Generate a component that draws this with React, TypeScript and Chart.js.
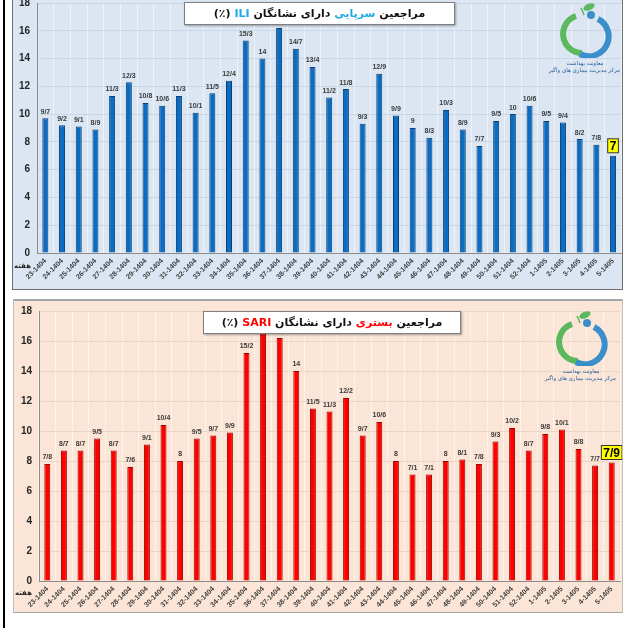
import React, { useEffect, useRef } from "react";
import { Chart, registerables } from "chart.js";

Chart.register(...registerables);

// week labels (week-year, Persian calendar)
const weeks = [
  "23-1404", "24-1404", "25-1404", "26-1404", "27-1404", "28-1404", "29-1404",
  "30-1404", "31-1404", "32-1404", "33-1404", "34-1404", "35-1404", "36-1404",
  "37-1404", "38-1404", "39-1404", "40-1404", "41-1404", "42-1404", "43-1404",
  "44-1404", "45-1404", "46-1404", "47-1404", "48-1404", "49-1404", "50-1404",
  "51-1404", "52-1404", "1-1405", "2-1405", "3-1405", "4-1405", "5-1405",
];

// outpatients with ILI (%)
const iliValues = [
  9.7, 9.2, 9.1, 8.9, 11.3, 12.3, 10.8, 10.6, 11.3, 10.1, 11.5, 12.4, 15.3, 14,
  16.2, 14.7, 13.4, 11.2, 11.8, 9.3, 12.9, 9.9, 9, 8.3, 10.3, 8.9, 7.7, 9.5,
  10, 10.6, 9.5, 9.4, 8.2, 7.8, 7,
];

// hospitalised with SARI (%)
const sariValues = [
  7.8, 8.7, 8.7, 9.5, 8.7, 7.6, 9.1, 10.4, 8, 9.5, 9.7, 9.9, 15.2, 16.5,
  16.2, 14, 11.5, 11.3, 12.2, 9.7, 10.6, 8, 7.1, 7.1, 8, 8.1, 7.8, 9.3,
  10.2, 8.7, 9.8, 10.1, 8.8, 7.7, 7.9,
];

const yMin = 0;
const yMax = 18;
const yStep = 2;

const tickFont = '"Liberation Sans", Arial, sans-serif';
const faFont = '"DejaVu Sans", sans-serif';

// numbers are written with "/" as the decimal mark
const fmt = (v: number) => String(v).replace(".", "/");

const valueLabels = {
  id: "valueLabels",
  afterDatasetsDraw(chart: any) {
    const { ctx } = chart;
    const meta = chart.getDatasetMeta(0);
    const data = chart.data.datasets[0].data as number[];
    ctx.save();
    meta.data.forEach((bar: any, i: number) => {
      const text = fmt(data[i]);
      if (i === data.length - 1) {
        ctx.font = `bold 12px ${tickFont}`;
        const w = ctx.measureText(text).width + 4;
        const h = 14;
        const bottom = bar.y - 3;
        ctx.fillStyle = "#FFFF00";
        ctx.fillRect(bar.x - w / 2, bottom - h, w, h);
        ctx.strokeStyle = "#333";
        ctx.lineWidth = 1;
        ctx.strokeRect(bar.x - w / 2, bottom - h, w, h);
        ctx.fillStyle = "#000";
        ctx.textAlign = "center";
        ctx.textBaseline = "middle";
        ctx.fillText(text, bar.x, bottom - h / 2 + 1);
      } else {
        ctx.font = `bold 7px ${tickFont}`;
        ctx.fillStyle = "#3A3A3A";
        ctx.textAlign = "center";
        ctx.textBaseline = "bottom";
        ctx.fillText(text, bar.x, bar.y - 3);
      }
    });
    ctx.restore();
  },
};

type PanelProps = {
  values: number[];
  barColor: string;
  barBorder: string;
  hGrid: string;
  vGrid: string;
  left: number;
  top: number;
  width: number;
  height: number;
  padTop: number;
  padRight: number;
  yWidth: number;
  xHeight: number;
};

const BarPanel: React.FC<PanelProps> = (p) => {
  const chartRef = useRef<HTMLCanvasElement | null>(null);

  useEffect(() => {
    const canvas = chartRef.current;
    if (!canvas) return;

    const chart = new Chart(canvas, {
      type: "bar",
      data: {
        labels: weeks,
        datasets: [
          {
            data: p.values,
            backgroundColor: p.barColor,
            borderColor: p.barBorder,
            borderWidth: 1,
            barPercentage: 0.36,
            categoryPercentage: 1,
          },
        ],
      },
      options: {
        animation: false,
        responsive: true,
        maintainAspectRatio: false,
        layout: { padding: { top: p.padTop, right: p.padRight, left: 0, bottom: 0 } },
        plugins: {
          legend: { display: false },
          tooltip: { enabled: false },
        },
        scales: {
          x: {
            grid: { color: p.vGrid, offset: true, drawTicks: false },
            border: { color: "#8C8C8C" },
            ticks: {
              autoSkip: false,
              maxRotation: 45,
              minRotation: 45,
              padding: 4,
              color: "#404040",
              font: { family: tickFont, size: 7, weight: "bold" },
            },
            afterFit: (s: any) => {
              s.height = p.xHeight;
            },
          },
          y: {
            min: yMin,
            max: yMax,
            ticks: {
              stepSize: yStep,
              padding: 7,
              color: "#262626",
              font: { family: tickFont, size: 10, weight: "bold" },
            },
            grid: { color: p.hGrid, drawTicks: false },
            border: { color: "#8C8C8C" },
            afterFit: (s: any) => {
              s.width = p.yWidth;
            },
          },
        },
      },
      plugins: [valueLabels],
    });

    return () => {
      chart.destroy();
    };
  }, [p]);

  return (
    <div
      style={{
        position: "absolute",
        left: p.left,
        top: p.top,
        width: p.width,
        height: p.height,
      }}
    >
      <canvas ref={chartRef} />
    </div>
  );
};

const Logo: React.FC<{ left: number; top: number }> = ({ left, top }) => (
  <div style={{ position: "absolute", left, top, width: 70 }}>
    <svg width="70" height="56" viewBox="0 0 70 56" style={{ display: "block" }}>
      <path d="M26 14 A19 19 0 0 0 32 51" fill="none" stroke="#5CB85C" strokeWidth="6" />
      <path d="M48 17 A19 19 0 0 1 30 52" fill="none" stroke="#3A8FCB" strokeWidth="6" />
      <circle cx="41" cy="13" r="4" fill="#3A8FCB" />
      <ellipse cx="39" cy="5" rx="6" ry="3.2" fill="#5CB85C" transform="rotate(-25 39 5)" />
      <path d="M31 6 Q33 10 34 13" fill="none" stroke="#5CB85C" strokeWidth="1.5" />
    </svg>
    <div
      style={{
        direction: "rtl",
        textAlign: "center",
        fontFamily: faFont,
        fontSize: 5.5,
        lineHeight: "7px",
        color: "#1F5C99",
        marginTop: 2,
        whiteSpace: "nowrap",
      }}
    >
      <div>معاونت بهداشت</div>
      <div>مرکز مدیریت بیماری های واگیر</div>
    </div>
  </div>
);

const TitleBox: React.FC<{
  left: number;
  top: number;
  width: number;
  height: number;
  word: string;
  code: string;
  color: string;
}> = ({ left, top, width, height, word, code, color }) => (
  <div
    style={{
      position: "absolute",
      left,
      top,
      width,
      height,
      boxSizing: "border-box",
      background: "#fff",
      border: "1px solid #7F7F7F",
      boxShadow: "1px 1px 2px rgba(0,0,0,0.35)",
      direction: "rtl",
      textAlign: "center",
      fontFamily: faFont,
      fontWeight: "bold",
      fontSize: 11,
      lineHeight: `${height - 2}px`,
      color: "#111",
      whiteSpace: "nowrap",
    }}
  >
    مراجعین <span style={{ color }}>{word}</span> دارای نشانگان{" "}
    <span style={{ color }}>{code}</span> (٪)
  </div>
);

const weekWord = (left: number, top: number) => (
  <div
    style={{
      position: "absolute",
      left,
      top,
      fontFamily: faFont,
      fontWeight: "bold",
      fontSize: 7,
      color: "#262626",
    }}
  >
    هفته
  </div>
);

const topPanel = {
  values: iliValues,
  barColor: "#0A6CC2",
  barBorder: "#0B3F73",
  hGrid: "#C9D6E6",
  vGrid: "#EEF3F9",
  left: 12,
  top: -10,
  width: 611,
  height: 300,
  padTop: 8,
  padRight: 1,
  yWidth: 25,
  xHeight: 37,
};

const bottomPanel = {
  values: sariValues,
  barColor: "#FF0000",
  barBorder: "#9C0000",
  hGrid: "#EBD5C7",
  vGrid: "#FFF4EC",
  left: 13,
  top: 298,
  width: 609,
  height: 315,
  padTop: 10,
  padRight: 2,
  yWidth: 26,
  xHeight: 32,
};

export default function App() {
  return (
    <div
      style={{
        position: "absolute",
        left: 0,
        top: 0,
        width: 636,
        height: 628,
        overflow: "hidden",
        background: "#fff",
      }}
    >
      <div style={{ position: "absolute", left: 3, top: 0, width: 2, height: 628, background: "#000" }} />
      <div
        style={{
          position: "absolute",
          left: 12,
          top: -3,
          width: 611,
          height: 293,
          boxSizing: "border-box",
          background: "#DCE6F2",
          border: "1px solid #6E6E6E",
        }}
      />
      <div
        style={{
          position: "absolute",
          left: 13,
          top: 299,
          width: 610,
          height: 314,
          boxSizing: "border-box",
          background: "#FBE5D6",
          borderTop: "2px solid #A6A6A6",
          borderLeft: "1px solid #BFBFBF",
          borderRight: "1px solid #BFBFBF",
          borderBottom: "1px solid #A6A6A6",
        }}
      />
      <BarPanel {...topPanel} />
      <BarPanel {...bottomPanel} />
      <TitleBox left={184} top={2} width={271} height={23} word="سرپایی" code="ILI" color="#1FA8E8" />
      <TitleBox left={203} top={311} width={258} height={23} word="بستری" code="SARI" color="#FF0000" />
      <Logo left={550} top={2} />
      <Logo left={546} top={310} />
      {weekWord(14, 262)}
      {weekWord(15, 589)}
    </div>
  );
}
